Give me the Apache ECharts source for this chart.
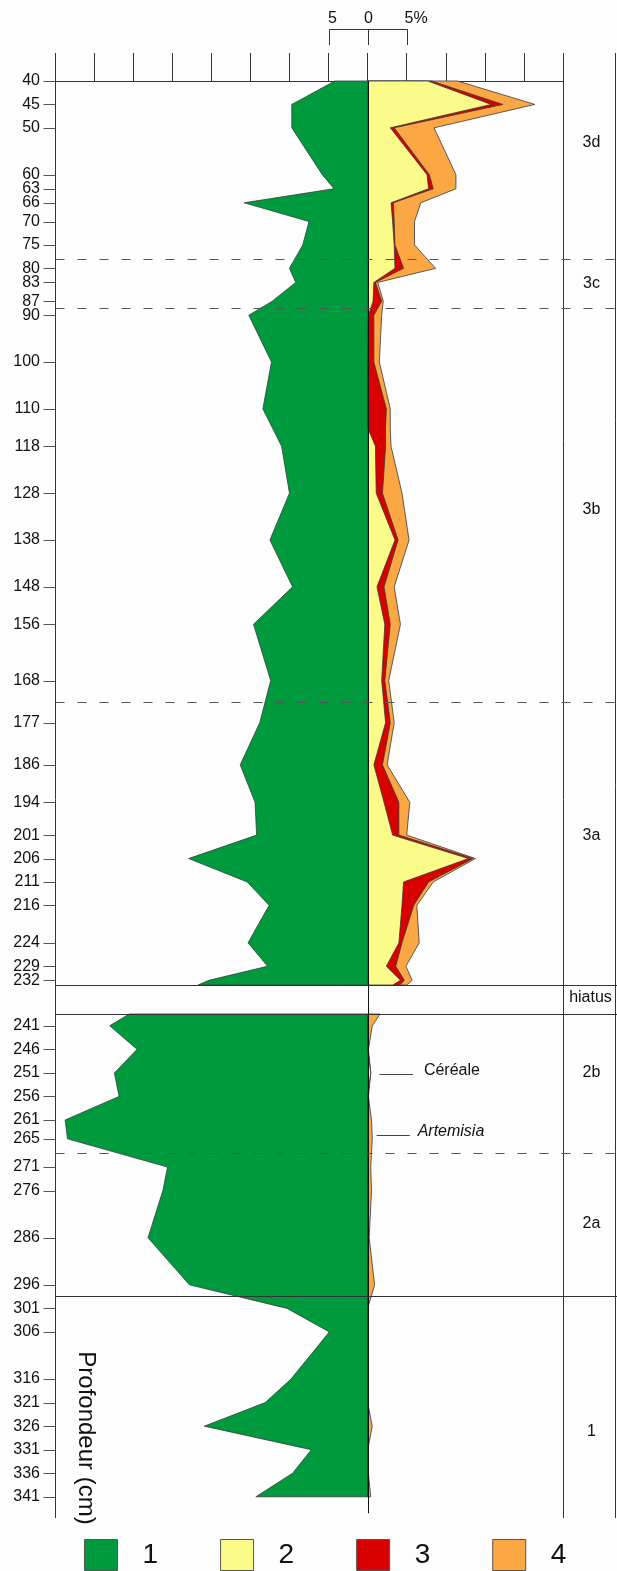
<!DOCTYPE html>
<html>
<head>
<meta charset="utf-8">
<script src="https://cdn.jsdelivr.net/npm/echarts@6/dist/echarts.min.js"></script>
<style>
  html, body { margin: 0; padding: 0; background: #fdfdfd; }
  #chart { width: 617px; height: 1571px; }
</style>
</head>
<body>
<div id="chart"></div>
<script>
// profondeurs des echantillons (cm) - partie haute (zones 3a-3d), jusqu'au hiatus
const depthsUpper = [40, 45, 50, 60, 63, 66, 70, 75, 80, 83, 87, 90, 100, 110, 114, 118, 128, 138, 148, 156,
  168, 177, 186, 194, 201, 206, 211, 216, 224, 229, 232, 233];
// pourcentages (1 = vers la gauche, 2-3-4 cumules vers la droite)
const greenUpper = [4.2, 9.7, 9.7, 5.8, 4.3, 15.8, 7.5, 8.3, 10.0, 9.2, 12.2, 15.2, 12.3, 13.4, 12.2, 11.0, 10.0, 12.5, 9.6, 14.6,
  12.4, 13.8, 16.3, 14.4, 14.2, 22.9, 15.4, 12.6, 15.3, 12.8, 20.3, 21.7];
const yellowUpper = [7.7, 15.8, 2.9, 7.6, 7.8, 3.0, 3.2, 3.4, 3.5, 0.8, 0.7, 0.1, 0, 0, 0, 1.0, 1.1, 3.5, 1.2, 2.2,
  1.8, 2.3, 0.8, 2.1, 3.2, 12.9, 4.6, 4.4, 4.0, 2.4, 4.2, 3.2];
const redUpper = [0.5, 1.5, 0.5, 0.3, 0.6, 0.3, 0.2, 0.1, 1.1, 0.2, 1.1, 0.7, 0.8, 2.4, 2.3, 1.3, 0.8, 0.4, 0.9, 0.7,
  0.4, 0.6, 1.1, 1.9, 0.8, 0.6, 3.2, 1.5, 0.4, 1.2, 0.5, 0.9];
const orangeUpper = [3.3, 4.1, 5.1, 3.4, 2.9, 3.5, 2.6, 2.5, 4.1, 0.3, 0.2, 1.0, 0.7, 0.5, 0.6, 0.7, 2.5, 1.4, 1.3, 1.3,
  0.5, 0.5, 0.6, 1.4, 1.0, 0.3, 0.6, 0.4, 2.2, 1.3, 1.0, 0.9];

// partie basse (zones 1-2b), apres le hiatus
const depthsLower = [238.5, 241, 246, 251, 256, 261, 265, 271, 276, 286, 296, 301, 306, 316, 321, 326, 331, 336, 341];
const greenLower = [30.5, 33.0, 29.5, 32.4, 31.8, 38.7, 38.4, 25.6, 26.2, 28.1, 22.8, 10.3, 4.9, 9.8, 13.1, 20.9, 7.2, 9.6, 14.3];
const yellowLower = [0, 0, 0, 0.4, 0, 0, 0, 0, 0, 0, 0, 0, 0, 0, 0, 0, 0, 0, 0];
const redLower = [0, 0, 0, 0, 0, 0, 0, 0, 0, 0, 0, 0, 0, 0, 0, 0, 0, 0, 0];
const orangeLower = [1.6, 0.6, 0.1, 0, 0.1, 0.5, 0.6, 0.4, 0.5, 0.2, 0.9, 0, 0, 0, 0, 0.6, 0, 0.1, 0.4];

// etiquettes de l'axe des profondeurs (229 a part : trop proche de 232 pour le masquage auto)
const depthTicksUpper = [40, 45, 50, 60, 63, 66, 70, 75, 80, 83, 87, 90, 100, 110, 118, 128, 138, 148, 156, 168,
  177, 186, 194, 201, 206, 211, 216, 224, 232];
const depthTicksExtra = [229];
const depthTicksLower = [241, 246, 251, 256, 261, 265, 271, 276, 286, 296, 301, 306, 316, 321, 326, 331, 336, 341];

// zones polliniques
const zoneBounds = [[0, 78.0, 'dashed'], [0, 88.5, 'dashed'], [0, 172.6, 'dashed'], [1, 268.1, 'dashed'], [1, 298.4, 'solid']];
const zoneLabels = [[0, '3d', 53.2], [0, '3c', 83.3], [0, '3b', 131.6], [0, '3a', 201.0], [1, '2b', 251.0], [1, '2a', 282.9], [1, '1', 327.1]];
const scaleBar = [-5, 0, 5];

const colors = { '1': '#009a3e', '2': '#fbfb8a', '3': '#d90000', '4': '#fba743' };

const cum = (a, b) => a.map((v, i) => v + b[i]);

function layer(name, grid, depths, edge, z) {
  return {
    type: 'custom',
    name: name,
    xAxisIndex: grid,
    yAxisIndex: grid,
    z: z,
    silent: true,
    itemStyle: { color: colors[name] },
    data: depths.map((d, i) => [edge[i], d]),
    renderItem: function (params, api) {
      if (params.dataIndex !== 0) return;
      const pts = depths.map((d, i) => api.coord([edge[i], d]));
      pts.push(api.coord([0, depths[depths.length - 1]]));
      pts.push(api.coord([0, depths[0]]));
      return {
        type: 'polygon',
        shape: { points: pts },
        style: { fill: colors[name], stroke: '#3a3a3a', lineWidth: 0.8 }
      };
    }
  };
}

function layers(grid, depths, green, yellow, red, orange) {
  const yr = cum(yellow, red);
  return [
    layer('1', grid, depths, green.map(v => -v), 2),
    layer('4', grid, depths, cum(yr, orange), 3),
    layer('3', grid, depths, yr, 4),
    layer('2', grid, depths, yellow, 5)
  ];
}

const font = 'Liberation Sans';
const chart = echarts.init(document.getElementById('chart'));

function depthAxis(grid, min, max, ticks) {
  return {
    gridIndex: grid,
    type: 'value',
    inverse: true,
    min: min,
    max: max,
    position: 'left',
    axisLine: { show: false },
    splitLine: { show: false },
    axisTick: { show: false },
    axisLabel: {
      customValues: ticks, fontSize: 16, color: '#111', margin: 15, fontFamily: font,
      showMinLabel: true, showMaxLabel: true
    }
  };
}

const option = {
  backgroundColor: '#fdfdfd',
  animation: false,
  grid: [
    { left: 55, top: 81, width: 508, height: 904 },
    { left: 55, top: 1014, width: 508, height: 504 }
  ],
  xAxis: [
    {
      gridIndex: 0, type: 'value', min: -40, max: 25, interval: 5, position: 'top',
      axisLine: { show: true, lineStyle: { color: '#333' } },
      axisTick: { show: true, length: 28, lineStyle: { color: '#333' } },
      axisLabel: { show: false },
      splitLine: { show: false }
    },
    { gridIndex: 1, type: 'value', min: -40, max: 25, interval: 5, show: false }
  ],
  yAxis: [
    depthAxis(0, 40, 233, depthTicksUpper),
    depthAxis(1, 238.5, 345.5, depthTicksLower),
    depthAxis(0, 40, 233, depthTicksExtra)
  ],
  legend: {
    left: 84,
    top: 1539,
    padding: 0,
    itemWidth: 33,
    itemHeight: 31,
    itemGap: 62,
    icon: 'rect',
    selectedMode: false,
    textStyle: { fontSize: 28, fontFamily: font, color: '#111', padding: [0, 0, 0, 20] },
    data: ['1', '2', '3', '4'].map(n => ({
      name: n,
      itemStyle: { color: colors[n], borderColor: '#555', borderWidth: 1 }
    }))
  },
  series: [].concat(
    layers(0, depthsUpper, greenUpper, yellowUpper, redUpper, orangeUpper),
    layers(1, depthsLower, greenLower, yellowLower, redLower, orangeLower)
  )
};

chart.setOption(option);

// cadres, graduations, limites de zones et annotations, positionnes via les echelles du graphique
const px = (g, x, d) => chart.convertToPixel({ xAxisIndex: g, yAxisIndex: g }, [x, d]);
const W = chart.getWidth();
const h = v => Math.round(v) + 0.5;
const xL = h(px(0, -40, 40)[0]);
const x0 = h(px(0, 0, 40)[0]);
const xR = h(px(0, 25, 40)[0]);
const yTop = px(0, 0, 40)[1];
const yBot = px(1, 0, 345.5)[1];
const xEdge = W - 1.5;
const els = [];

function line(x1, y1, x2, y2, extra) {
  els.push({
    type: 'line', silent: true, z: 10,
    shape: { x1: x1, y1: y1, x2: x2, y2: y2 },
    style: Object.assign({ stroke: '#333', lineWidth: 1 }, extra || {})
  });
}
function text(str, x, y, extra) {
  els.push({
    type: 'text', silent: true, z: 11, x: x, y: y,
    rotation: (extra && extra.rotation) || 0,
    style: Object.assign({
      text: str, fontSize: 16, fontFamily: font, fill: '#111',
      align: 'center', textAlign: 'center', verticalAlign: 'middle', textVerticalAlign: 'middle'
    }, extra && extra.style)
  });
}

line(xL, yTop, xL, yBot);
line(x0, yTop, x0, px(1, 0, 344.5)[1], { stroke: '#111' });
line(xR, yTop, xR, yBot);
line(xEdge, yTop - 28, xEdge, yBot);

// graduations de profondeur
[[0, depthTicksUpper.concat(depthTicksExtra)], [1, depthTicksLower]].forEach(t => {
  t[1].forEach(d => {
    const y = h(px(t[0], 0, d)[1]);
    line(xL - 12, y, xL, y, { stroke: '#555' });
  });
});

const yH1 = h(px(0, 0, 233)[1]);
const yH2 = h(px(1, 0, 238.5)[1]);
line(xL, yH1, W, yH1);
line(xL, yH2, W, yH2);
text('hiatus', (xR + xEdge) / 2 + 1, (yH1 + yH2) / 2 - 2);

zoneBounds.forEach(b => {
  const y = h(px(b[0], 0, b[1])[1]);
  line(xL, y, W, y, b[2] === 'dashed' ? { stroke: '#555', lineDash: [9, 13] } : {});
});
zoneLabels.forEach(z => {
  text(z[1], (xR + xEdge) / 2 + 2, px(z[0], 0, z[2])[1]);
});

// echelle 5 0 5%
const sx = scaleBar.map(v => h(px(0, v, 40)[0]));
line(sx[0], 29.5, sx[2], 29.5);
sx.forEach(x => line(x, 29.5, x, 45));
text('5', sx[0] + 3, 19);
text('0', sx[1], 19);
text('5%', sx[2] - 3, 19, { style: { align: 'left', textAlign: 'left' } });

// taxons signales
const notes = [
  ['Céréale', 251.3, 1.5, 5.8, 7.2, 'normal'],
  ['Artemisia', 264.2, 1.15, 5.4, 6.4, 'italic']
];
notes.forEach(n => {
  const a = px(1, n[2], n[1]);
  const b = px(1, n[3], n[1]);
  const t = px(1, n[4], n[1]);
  line(a[0], h(a[1]), b[0], h(a[1]), { stroke: '#444' });
  text(n[0], t[0], t[1] - 4, { style: { align: 'left', textAlign: 'left', fontStyle: n[5] } });
});

text('Profondeur (cm)', 86, 1438, { rotation: -Math.PI / 2, style: { fontSize: 24 } });

chart.setOption({ graphic: { elements: els } });
</script>
</body>
</html>
